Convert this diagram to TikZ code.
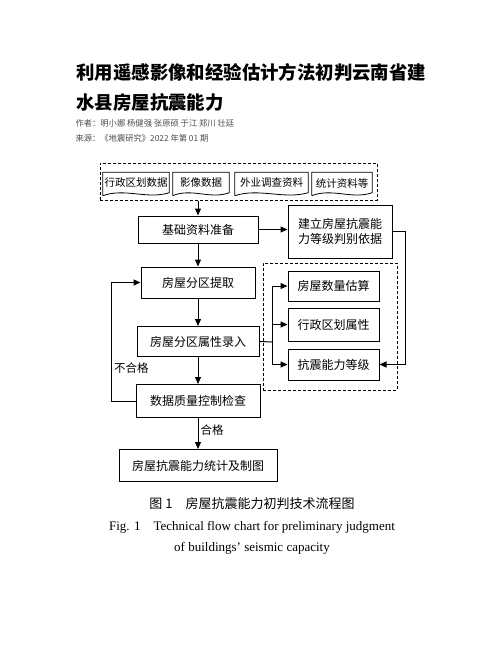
\documentclass[tikz,border=0pt]{standalone}
\usepackage{fontspec}
\setmainfont{Liberation Serif}
\newfontfamily\cjk{Noto Sans CJK SC}
\usetikzlibrary{positioning,arrows.meta,calc}

\tikzset{
  box/.style={draw, line width=1pt, inner sep=0pt, font=\cjk\fontsize{12}{15}\selectfont},
  doc/.style={inner sep=0pt, minimum height=21pt, font=\cjk\fontsize{10.5}{12}\selectfont},
  dashbox/.style={draw, line width=1pt, dash pattern=on 3pt off 2pt, inner sep=0pt},
  flow/.style={-{Triangle[length=7pt,width=6pt]}, line width=1pt},
  lbl/.style={font=\cjk\fontsize{11.5}{13}\selectfont, inner sep=2pt},
}

\begin{document}
\begin{tikzpicture}[x=1pt, y=1pt, node distance=59pt]
  \useasboundingbox (0,0) rectangle (502,-649);

  % heading
  \node (title1) [anchor=west, font=\cjk\bfseries\fontsize{18.4}{22}\selectfont] at (73,-72) {利用遥感影像和经验估计方法初判云南省建};
  \node (title2) [anchor=west, font=\cjk\bfseries\fontsize{18.4}{22}\selectfont] at (73,-103) {水县房屋抗震能力};
  \node (author) [anchor=west, text=black!70, font=\cjk\fontsize{8.3}{10}\selectfont] at (72,-123) {作者：明小娜 杨健强 张原硕 于江 郑川 壮廷};
  \node (source) [anchor=west, text=black!70, font=\cjk\fontsize{8.3}{10}\selectfont] at (72,-138) {来源：《地震研究》2022 年第 01 期};

  % data sources
  \node (src) [dashbox, minimum width=277pt, minimum height=37pt] at (238.5,-181.5) {};
  \node (dA) [doc, minimum width=66pt] at (136,-183) {行政区划数据};
  \node (dB) [doc, minimum width=56pt] at (201,-183) {影像数据};
  \node (dC) [doc, minimum width=73pt] at (271.5,-183) {外业调查资料};
  \node (dD) [doc, minimum width=60pt] at (342,-183) {统计资料等};
  \foreach \n in {dA,dB,dC,dD}
    \draw[line width=0.8pt] ($(\n.south west)+(0,-2)$) -- (\n.north west) -- (\n.north east) -- ($(\n.south east)+(0,1)$)
      .. controls ($(\n.south east)!0.33!(\n.south west)+(0,-6)$) and ($(\n.south east)!0.67!(\n.south west)+(0,6)$) .. ($(\n.south west)+(0,-2)$);

  % main flow
  \node (base) [box, minimum width=120pt, minimum height=27pt] at (198,-229.5) {基础资料准备};
  \node (ext) [box, below of=base, node distance=53pt, minimum width=114pt, minimum height=31pt] {房屋分区提取};
  \node (attr) [box, below of=ext, minimum width=122pt, minimum height=30pt] {房屋分区属性录入};
  \node (qc) [box, below of=attr, node distance=59.5pt, minimum width=124pt, minimum height=33pt] {数据质量控制检查};
  \node (out) [box, below of=qc, node distance=64.5pt, minimum width=158pt, minimum height=32pt] {房屋抗震能力统计及制图};

  % right side
  \node (rule) [box, minimum width=104pt, minimum height=53pt, align=center] at (340,-231.5) {建立房屋抗震能\\力等级判别依据};
  \node (grp) [dashbox, minimum width=134pt, minimum height=127pt] at (330,-326.5) {};
  \node (cnt) [box, minimum width=91pt, minimum height=30pt] at (333.5,-286) {房屋数量估算};
  \node (adm) [box, below of=cnt, node distance=38.5pt, minimum width=91pt, minimum height=33pt] {行政区划属性};
  \node (lvl) [box, below of=adm, node distance=40pt, minimum width=91pt, minimum height=31pt] {抗震能力等级};
  \coordinate (br) at (272,-342);

  % connectors
  \draw[flow] (src.south -| base) -- (base.north);
  \draw[flow] (base.east) -- (rule.west |- base);
  \draw[flow] (base.south) -- (ext.north);
  \draw[flow] (ext.south) -- (attr.north);
  \draw[flow] (attr.south) -- (qc.north);
  \draw[flow] (qc.south) -- node[lbl, anchor=west, pos=0.4] {合格} (out.north);
  \draw[flow] (qc.west) -- ++(-24,0) |- node[lbl, anchor=west, pos=0.14] {不合格} (ext.west);
  \draw[line width=1pt] (attr.east) -- (br);
  \foreach \t in {cnt,adm,lvl}
    \draw[flow] (br) |- (\t.west);
  \draw[flow] (rule.east) -- ++(13,0) |- (lvl.east);

  % caption
  \node (capcn) [font=\cjk\fontsize{13}{15}\selectfont] at (252,-504) {图 1\quad 房屋抗震能力初判技术流程图};
  \node (capen1) [font=\fontsize{13}{15}\selectfont] at (252,-527) {Fig. 1\quad Technical flow chart for preliminary judgment};
  \node (capen2) [font=\fontsize{13}{15}\selectfont] at (252,-548) {of buildings' seismic capacity};
\end{tikzpicture}
\end{document}
